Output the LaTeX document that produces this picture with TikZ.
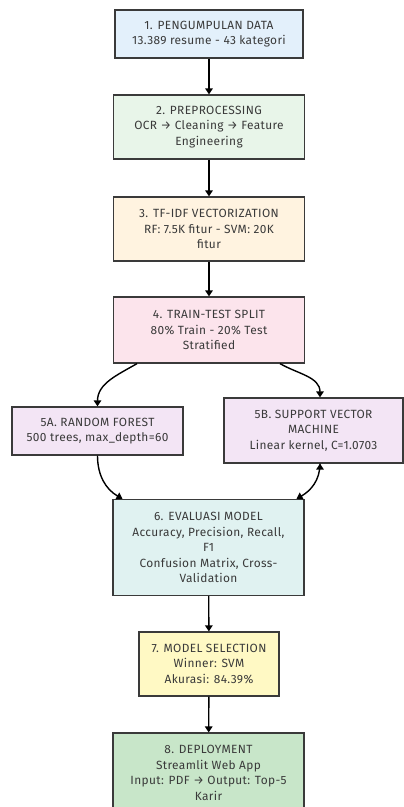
\documentclass[tikz,border=0pt]{standalone}
\usepackage{fontspec}
\setmainfont[LetterSpace=3]{Fira Sans}
\usepackage{tikz}
\usetikzlibrary{arrows,arrows.meta,positioning,shapes}
\definecolor{txtgray}{HTML}{3A3A3A}
\definecolor{edgegray}{HTML}{3A3A3A}
\definecolor{cblue}{HTML}{E3F0FB}
\definecolor{cgreen}{HTML}{E8F5E9}
\definecolor{corange}{HTML}{FFF3E0}
\definecolor{cpink}{HTML}{FCE4EC}
\definecolor{clavender}{HTML}{F3E5F5}
\definecolor{cteal}{HTML}{E0F2F1}
\definecolor{cyellow}{HTML}{FFF9C4}
\definecolor{cdeploy}{HTML}{C8E6C9}
\tikzset{font=\fontsize{11.9}{15.5}\selectfont}
\tikzstyle{stepbox}=[rectangle,draw=edgegray,line width=1.2pt,text=txtgray,align=center,inner sep=0pt,minimum width=191pt]
\tikzstyle{flow}=[->,draw=black,line width=1.4pt,>={Triangle[length=6pt,width=7.5pt]}]
\begin{document}
\begin{tikzpicture}[x=1pt,y=-1pt]
\clip (0,0) rectangle (404,807);
\fill[white] (0,0) rectangle (404,807);
\node[stepbox,fill=cblue,minimum width=188pt,minimum height=48pt] (B1) at (209,34) {1. PENGUMPULAN DATA\\13.389 resume - 43 kategori};
\node[stepbox,fill=cgreen,minimum height=64pt] (B2) at (209,127) {2. PREPROCESSING\\OCR → Cleaning → Feature\\Engineering};
\node[stepbox,fill=corange,minimum height=64pt] (B3) at (209,229) {3. TF-IDF VECTORIZATION\\RF: 7.5K fitur - SVM: 20K\\fitur};
\node[stepbox,fill=cpink,minimum height=66pt] (B4) at (209,330) {4. TRAIN-TEST SPLIT\\80\% Train - 20\% Test\\Stratified};
\node[stepbox,fill=clavender,minimum width=171pt,minimum height=48pt] (B5A) at (97.5,431) {5A. RANDOM FOREST\\500 trees, max\_depth=60};
\node[stepbox,fill=clavender,minimum width=179pt,minimum height=65pt] (B5B) at (313.5,430.5) {5B. SUPPORT VECTOR\\MACHINE\\Linear kernel, C=1.0703};
\node[stepbox,fill=cteal,minimum height=96pt] (B6) at (208.5,547.5) {6. EVALUASI MODEL\\Accuracy, Precision, Recall,\\F1\\Confusion Matrix, Cross-\\Validation};
\node[stepbox,fill=cyellow,minimum width=140pt,minimum height=64pt] (B7) at (209,664) {7. MODEL SELECTION\\Winner: SVM\\Akurasi: 84.39\%};
\node[stepbox,fill=cdeploy,minimum height=80pt] (B8) at (208.5,773) {8. DEPLOYMENT\\Streamlit Web App\\Input: PDF → Output: Top-5\\Karir};
% straight steps
\path[flow]
(B1) edge (B2)
(B2) edge (B3)
(B3) edge (B4)
(B6) edge (B7)
(B7) edge (B8);
% split into the two models
\path[flow]
([xshift=-72pt]B4.south) edge[out=-150,in=90] (B5A.north)
([xshift=71pt]B4.south) edge[out=-30,in=90] ([xshift=6.5pt]B5B.north)
(B5A.south) edge[out=-90,in=150] ([xshift=-86pt]B6.north)
([xshift=6.5pt]B5B.south) edge[out=-90,in=30] ([xshift=88pt]B6.north);
\end{tikzpicture}
\end{document}
